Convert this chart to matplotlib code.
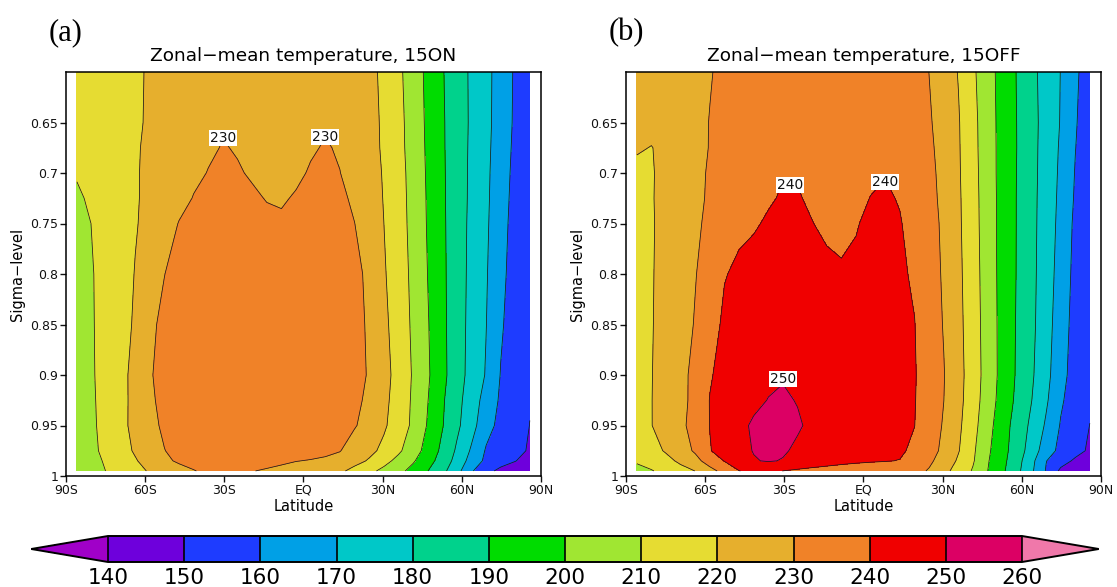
import numpy as np
import matplotlib
matplotlib.use("Agg")
import matplotlib.pyplot as plt
from matplotlib.colors import ListedColormap, BoundaryNorm

# T21 Gaussian latitudes (degrees, south to north)
lats = [-85.76, -80.27, -74.74, -69.21, -63.68, -58.14, -52.61, -47.07,
        -41.53, -36.00, -30.46, -24.92, -19.38, -13.84, -8.30, -2.77,
        2.77, 8.30, 13.84, 19.38, 24.92, 30.46, 36.00, 41.53,
        47.07, 52.61, 58.14, 63.68, 69.21, 74.74, 80.27, 85.76]

# sigma levels of the cross-section (top to bottom)
sigma = [0.600, 0.650, 0.675, 0.700, 0.725, 0.750, 0.800,
         0.850, 0.900, 0.925, 0.950, 0.975, 0.985, 0.995]

# zonal-mean temperature (K), experiment 15ON: one row per sigma level
temp_15on = [
    [214.0, 215.3, 216.5, 217.8, 219.1, 220.6, 222.5, 224.2, 225.5, 226.5, 227.4, 227.5, 227.0, 226.6, 226.5, 226.8,
     227.2, 227.5, 227.0, 225.8, 223.3, 217.5, 212.0, 205.2, 197.8, 190.7, 184.6, 178.5, 172.6, 166.0, 158.7, 150.4],
    [214.5, 215.6, 216.8, 218.0, 219.3, 220.6, 222.6, 224.6, 226.3, 227.8, 229.3, 229.0, 228.0, 227.2, 226.8, 227.3,
     228.2, 229.3, 228.6, 226.8, 223.8, 218.3, 212.7, 206.0, 198.2, 191.1, 184.8, 178.6, 172.5, 165.8, 158.4, 150.5],
    [214.8, 215.8, 217.0, 218.2, 219.5, 220.9, 223.0, 225.2, 227.0, 228.8, 230.4, 229.5, 228.3, 227.6, 227.4, 228.0,
     229.3, 230.5, 229.4, 227.2, 224.0, 218.5, 212.9, 206.2, 198.5, 191.2, 184.7, 178.4, 172.2, 165.3, 157.9, 150.5],
    [210.8, 213.5, 215.8, 217.8, 219.5, 221.2, 223.5, 226.0, 228.2, 230.3, 231.5, 230.6, 229.3, 228.2, 227.8, 228.8,
     230.6, 231.6, 230.1, 227.8, 224.5, 219.2, 213.4, 206.7, 198.8, 191.4, 184.7, 178.2, 171.9, 164.8, 157.3, 150.6],
    [208.5, 211.5, 214.8, 217.6, 219.4, 221.5, 224.0, 227.0, 230.4, 232.0, 232.8, 232.0, 231.0, 229.7, 229.3, 230.6,
     232.0, 232.5, 231.8, 228.5, 225.0, 219.6, 213.7, 207.0, 199.1, 191.5, 184.7, 178.1, 171.7, 164.3, 156.8, 150.6],
    [206.5, 210.1, 214.0, 217.2, 219.5, 222.0, 225.5, 230.4, 232.5, 233.5, 234.0, 233.4, 232.5, 231.5, 231.0, 231.5,
     232.8, 233.3, 232.5, 230.1, 225.5, 220.05, 214.0, 207.2, 199.3, 191.7, 184.6, 177.8, 171.4, 163.7, 156.3, 150.7],
    [205.8, 209.4, 213.0, 216.6, 220.3, 224.5, 229.9, 232.5, 234.0, 234.8, 235.0, 234.8, 234.3, 233.8, 233.3, 233.3,
     233.8, 234.0, 233.5, 232.5, 228.0, 221.0, 214.7, 207.9, 199.9, 192.0, 184.5, 177.5, 170.8, 162.6, 155.7, 151.0],
    [205.5, 209.3, 212.8, 216.3, 221.2, 228.6, 231.6, 233.8, 235.0, 235.6, 235.8, 235.5, 235.0, 234.5, 234.2, 234.2,
     234.5, 234.5, 234.0, 232.8, 228.8, 222.2, 215.5, 208.5, 200.7, 192.3, 184.4, 177.1, 170.2, 161.2, 155.2, 151.0],
    [205.3, 209.2, 212.6, 217.0, 223.0, 229.2, 233.0, 234.8, 235.7, 236.2, 236.3, 236.0, 235.5, 235.0, 234.8, 234.7,
     234.8, 234.8, 234.3, 233.2, 229.2, 223.5, 216.4, 209.2, 201.3, 192.7, 184.3, 176.6, 169.3, 159.6, 155.0, 151.0],
    [205.2, 209.0, 212.4, 217.2, 222.7, 228.6, 232.3, 234.4, 235.6, 236.2, 236.4, 236.2, 235.7, 235.0, 234.7, 234.5,
     234.4, 234.2, 233.5, 232.0, 228.2, 222.5, 215.8, 208.7, 200.3, 191.3, 183.0, 175.0, 166.3, 158.6, 154.2, 150.4],
    [205.0, 208.8, 212.2, 217.5, 222.5, 227.5, 231.5, 234.0, 235.5, 236.2, 236.5, 236.3, 235.8, 235.0, 234.5, 234.2,
     234.0, 233.6, 232.6, 230.6, 227.0, 221.4, 215.1, 208.3, 199.3, 190.6, 182.0, 173.6, 163.4, 157.4, 153.5, 149.9],
    [204.6, 208.6, 211.5, 216.5, 221.0, 225.5, 229.8, 232.5, 234.5, 235.5, 236.0, 235.6, 234.6, 233.4, 232.5, 231.8,
     231.3, 231.0, 230.3, 226.3, 222.5, 217.7, 211.7, 204.5, 196.5, 187.8, 178.6, 168.7, 159.1, 155.7, 152.4, 149.1],
    [204.3, 207.5, 210.9, 214.6, 219.2, 223.8, 228.6, 231.0, 232.8, 234.0, 234.6, 234.0, 232.5, 231.5, 230.9, 230.1,
     229.8, 229.3, 227.3, 223.3, 219.0, 213.2, 207.2, 201.1, 193.9, 185.8, 176.7, 166.0, 157.9, 154.0, 150.2, 147.5],
    [204.0, 207.0, 210.1, 213.5, 216.8, 221.0, 224.5, 227.5, 229.6, 231.8, 232.5, 231.6, 230.15, 229.5, 228.7, 228.5,
     228.0, 227.0, 221.8, 217.0, 212.4, 207.6, 202.7, 197.0, 190.2, 182.7, 173.5, 161.0, 153.1, 147.5, 146.5, 146.0],
]

# zonal-mean temperature (K), experiment 15OFF
temp_15off = [
    [223.5, 224.5, 225.5, 226.5, 227.7, 229.6, 231.5, 233.3, 234.8, 236.0, 236.9, 237.0, 236.6, 236.3, 236.2, 236.4,
     236.8, 237.2, 236.7, 235.0, 229.9, 224.9, 219.6, 211.6, 203.8, 196.5, 189.6, 182.7, 176.1, 169.8, 161.5, 155.5],
    [222.5, 223.2, 224.5, 225.8, 228.0, 230.2, 232.3, 234.3, 236.0, 237.4, 238.6, 238.5, 237.6, 237.0, 236.8, 237.2,
     238.0, 238.7, 238.0, 236.0, 231.0, 226.0, 220.7, 212.7, 204.3, 196.7, 189.9, 183.2, 176.3, 169.5, 160.8, 154.5],
    [221.0, 219.7, 222.5, 225.0, 227.5, 230.3, 232.6, 234.7, 236.6, 238.0, 239.2, 239.2, 238.3, 237.6, 237.4, 237.8,
     238.7, 239.3, 238.8, 236.6, 231.8, 226.5, 220.9, 212.9, 204.4, 196.8, 189.95, 183.0, 176.1, 168.8, 160.2, 154.0],
    [217.5, 219.2, 223.0, 225.5, 228.0, 230.8, 233.0, 235.2, 237.0, 238.5, 239.7, 239.7, 238.8, 238.0, 237.8, 238.3,
     239.2, 239.8, 239.3, 237.2, 232.6, 227.0, 221.1, 213.2, 204.6, 196.7, 189.8, 183.0, 175.8, 168.3, 159.5, 153.8],
    [216.5, 219.3, 223.2, 225.8, 228.2, 231.0, 233.5, 235.8, 237.7, 239.3, 240.6, 240.3, 239.4, 238.6, 238.4, 239.0,
     240.1, 240.6, 239.7, 237.8, 233.0, 227.6, 221.4, 213.5, 204.8, 196.8, 189.7, 182.8, 175.5, 167.8, 158.9, 153.5],
    [215.8, 219.0, 223.5, 226.2, 228.8, 231.5, 234.0, 238.5, 239.3, 240.8, 241.5, 241.2, 240.1, 239.2, 238.9, 239.7,
     241.0, 241.4, 240.3, 238.3, 233.8, 228.2, 221.6, 213.7, 204.9, 196.8, 189.7, 182.7, 175.3, 167.2, 158.0, 153.0],
    [215.5, 219.2, 223.8, 227.0, 229.6, 234.0, 239.6, 241.4, 242.6, 243.5, 243.8, 243.2, 242.0, 241.0, 240.5, 240.9,
     241.6, 241.8, 241.2, 239.0, 234.5, 228.8, 222.1, 214.2, 205.2, 196.8, 189.6, 182.6, 174.7, 166.1, 157.2, 152.5],
    [215.3, 219.5, 223.2, 226.0, 230.6, 236.5, 241.5, 243.5, 244.8, 245.8, 246.3, 245.8, 244.5, 243.3, 242.6, 242.5,
     242.6, 242.5, 242.0, 240.2, 235.0, 229.5, 222.6, 214.6, 205.6, 196.9, 189.3, 182.3, 174.0, 164.7, 156.5, 152.0],
    [215.0, 219.7, 223.8, 227.9, 232.0, 239.2, 243.0, 245.5, 247.3, 248.6, 249.5, 249.0, 247.5, 245.8, 244.5, 243.8,
     243.4, 243.2, 242.6, 240.6, 235.5, 230.4, 223.2, 215.0, 205.9, 196.9, 189.0, 181.4, 173.0, 163.2, 156.0, 151.5],
    [214.8, 219.8, 223.8, 228.0, 232.0, 240.3, 244.5, 246.8, 248.4, 250.2, 250.9, 249.7, 247.9, 246.0, 244.6, 243.8,
     243.3, 243.0, 242.4, 240.4, 235.2, 230.05, 222.85, 214.5, 205.1, 196.2, 188.1, 180.2, 171.4, 161.3, 155.3, 151.0],
    [214.5, 219.8, 223.5, 228.5, 232.5, 240.2, 245.0, 248.2, 251.0, 252.0, 252.3, 250.8, 248.6, 246.6, 245.0, 244.0,
     243.4, 243.0, 242.3, 240.1, 234.8, 229.2, 221.9, 213.3, 203.5, 194.4, 186.2, 178.0, 168.7, 159.3, 154.3, 149.9],
    [213.0, 216.5, 221.0, 226.5, 231.0, 239.5, 244.0, 247.8, 250.3, 251.2, 250.8, 248.8, 246.8, 245.0, 243.6, 242.5,
     241.8, 241.6, 241.0, 238.6, 233.5, 228.0, 220.6, 211.6, 201.7, 193.4, 185.2, 175.6, 164.6, 157.4, 153.0, 148.6],
    [211.0, 213.8, 217.0, 222.0, 227.5, 233.5, 240.4, 245.5, 249.5, 250.6, 249.6, 247.5, 245.5, 243.8, 242.3, 241.3,
     240.7, 240.3, 239.8, 236.0, 231.5, 226.5, 218.6, 210.9, 200.8, 192.7, 183.9, 172.9, 160.3, 153.8, 148.5, 146.5],
    [207.5, 209.4, 212.9, 216.5, 220.1, 227.5, 232.5, 239.8, 242.0, 242.3, 239.9, 238.5, 237.3, 236.5, 236.0, 235.8,
     235.5, 235.2, 234.5, 232.5, 229.3, 222.8, 216.25, 209.1, 200.05, 191.8, 182.8, 171.7, 159.3, 148.0, 146.5, 146.0],
]

# contour levels and shading colours
levels = [140, 150, 160, 170, 180, 190, 200, 210, 220, 230, 240, 250, 260]
fill_colors = ["#6E00DC", "#1E3CFF", "#00A0E6", "#00C8C8", "#00D28C", "#00DC00",
               "#A0E632", "#E6DC32", "#E6AF2D", "#F08228", "#F00000", "#DC0064"]
under_color = "#A000C8"
over_color = "#F078AA"

# axis ticks
lat_ticks = [-90, -60, -30, 0, 30, 60, 90]
lat_labels = ["90S", "60S", "30S", "EQ", "30N", "60N", "90N"]
sigma_ticks = [0.65, 0.70, 0.75, 0.80, 0.85, 0.90, 0.95, 1.00]
sigma_labels = ["0.65", "0.7", "0.75", "0.8", "0.85", "0.9", "0.95", "1"]

# contour labels: (latitude, sigma, value)
labels_15on = [(-30.4, 0.665, 230), (8.2, 0.664, 230)]
labels_15off = [(-27.8, 0.712, 240), (8.2, 0.709, 240), (-30.4, 0.904, 250)]

W, H = 1117, 587
fig = plt.figure(figsize=(W / 100, H / 100), dpi=100)
plt.rcParams["font.family"] = ["DejaVu Sans"]

cmap = ListedColormap(fill_colors)
cmap.set_under(under_color)
cmap.set_over(over_color)
norm = BoundaryNorm(levels, cmap.N)

panels = [
    ("(a)", "Zonal\u2212mean temperature, 15ON", temp_15on, labels_15on, 65.7),
    ("(b)", "Zonal\u2212mean temperature, 15OFF", temp_15off, labels_15off, 625.7),
]

ax_w, ax_top, ax_bot = 475.3, 72.0, 476.0
cf = None
for tag, title, temp, clabels, left in panels:
    ax = fig.add_axes([left / W, 1 - ax_bot / H, ax_w / W, (ax_bot - ax_top) / H])
    field = np.array(temp)
    cf = ax.contourf(lats, sigma, field, levels=levels, cmap=cmap, norm=norm,
                     extend="both")
    ax.contour(lats, sigma, field, levels=levels, colors="#1a1a1a",
               linewidths=0.55)
    for lat, sig, val in clabels:
        ax.text(lat, sig, f"{val}", ha="center", va="center", fontsize=10,
                color="#111111", zorder=6,
                bbox=dict(boxstyle="square,pad=0.08", fc="white", ec="none"))
    ax.set_xlim(-90, 90)
    ax.set_ylim(1.0, 0.6)
    ax.set_xticks(lat_ticks)
    ax.set_xticklabels(lat_labels)
    ax.set_yticks(sigma_ticks)
    ax.set_yticklabels(sigma_labels)
    ax.tick_params(direction="out", length=4, width=1, labelsize=9, pad=1.5,
                   top=False, right=False, colors="#111111")
    for sp in ax.spines.values():
        sp.set_linewidth(1.1)
    ax.set_xlabel("Latitude", fontsize=10.5, labelpad=2)
    ax.set_ylabel("Sigma\u2212level", fontsize=10.5, labelpad=4)
    ax.set_title(title, fontsize=13.3, pad=8)
    fig.text((left - 17.5) / W, 1 - 40 / H, tag, fontsize=22,
             family=["Liberation Serif", "DejaVu Serif"], ha="left",
             va="baseline")

# horizontal colour bar with triangular ends; the axes spans both tips
ext = 0.084
inner_left, inner_w = 108.0, 914.0
tip = inner_w * ext
cax = fig.add_axes([(inner_left - tip) / W, 1 - 562 / H,
                    (inner_w + 2 * tip) / W, 26 / H])
cb = fig.colorbar(cf, cax=cax, orientation="horizontal", extend="both",
                  extendfrac=ext, drawedges=True, ticks=levels)
cb.outline.set_linewidth(1.4)
cb.dividers.set_linewidth(1.2)
cb.ax.tick_params(length=0, labelsize=15.5, pad=4)
cb.ax.set_xticklabels([str(v) for v in levels])

fig.savefig("out.png", dpi=100)
